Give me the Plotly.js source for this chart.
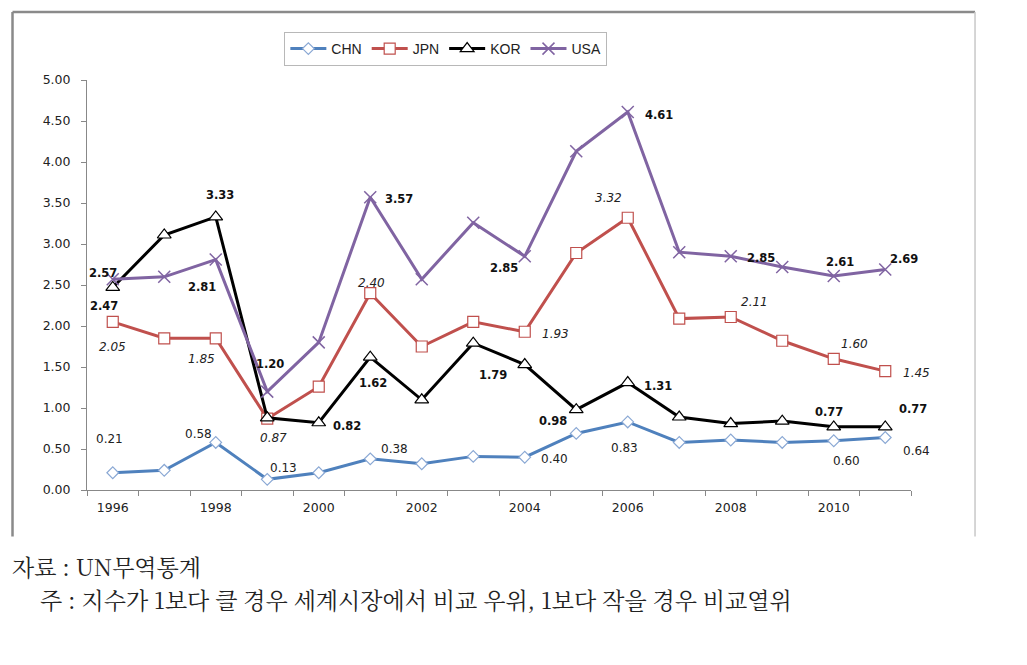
<!DOCTYPE html>
<html>
<head>
<meta charset="utf-8">
<script src="https://cdn.plot.ly/plotly-3.0.1.min.js"></script>
<style>html,body{margin:0;padding:0;background:#fff;}#chart{width:1027px;height:665px;}</style>
</head>
<body>
<div id="chart"></div>
<script>
// ---- data ----
const years = ['1996','1997','1998','1999','2000','2001','2002','2003','2004','2005','2006','2007','2008','2009','2010','2011'];
const yearLabels = ['1996','','1998','','2000','','2002','','2004','','2006','','2008','','2010',''];
const chn = [0.21, 0.24, 0.58, 0.13, 0.21, 0.38, 0.32, 0.41, 0.40, 0.69, 0.83, 0.58, 0.61, 0.58, 0.60, 0.64];
const jpn = [2.05, 1.85, 1.85, 0.87, 1.26, 2.40, 1.75, 2.05, 1.93, 2.89, 3.32, 2.09, 2.11, 1.82, 1.60, 1.45];
const kor = [2.47, 3.11, 3.33, 0.88, 0.82, 1.62, 1.10, 1.79, 1.53, 0.98, 1.31, 0.89, 0.81, 0.84, 0.77, 0.77];
const usa = [2.57, 2.60, 2.81, 1.20, 1.80, 3.57, 2.57, 3.26, 2.85, 4.13, 4.61, 2.90, 2.85, 2.72, 2.61, 2.69];
const seriesNames = ['CHN','JPN','KOR','USA'];
const yTicks = [0,0.5,1,1.5,2,2.5,3,3.5,4,4.5,5];
const sourceText = '자료 : UN무역통계';
const noteText = '주 : 지수가 1보다 클 경우 세계시장에서 비교 우위, 1보다 작을 경우 비교열위';

// ---- styling ----
const seriesData = {CHN: chn, JPN: jpn, KOR: kor, USA: usa};
const styles = {
  CHN: {color:'#4f81bd', sym:'diamond', size:9, mline:'#8aa8d4', mfill:'#ffffff', lw:1.2},
  JPN: {color:'#c0504d', sym:'square', size:11, mline:'#c0504d', mfill:'#ffffff', lw:1.2},
  KOR: {color:'#000000', sym:'triangle-up', size:12, mline:'#000000', mfill:'#ffffff', lw:1.2},
  USA: {color:'#8064a2', sym:'x-thin', size:12, mline:'#8064a2', mfill:'#8064a2', lw:1.5}
};
const labelFont = {
  CHN: {family:'DejaVu Sans', size:12, color:'#222', weight:'normal', style:'normal'},
  JPN: {family:'DejaVu Sans', size:12, color:'#222', weight:'normal', style:'italic'},
  KOR: {family:'DejaVu Sans', size:11.5, color:'#111', weight:'bold', style:'normal'},
  USA: {family:'DejaVu Sans', size:11.5, color:'#111', weight:'bold', style:'normal'}
};
// [series, year index, x shift px, y shift px]
const labelSpots = [
  ['USA',0,-10,6.5],['KOR',0,-9,-19],['JPN',0,0,-25],['CHN',0,-3,34],
  ['KOR',2,4,22],['USA',2,-14,-27],['JPN',2,-14,-21],['CHN',2,-17,8],
  ['USA',3,3,28],['JPN',3,6,-19],['CHN',3,16,11],
  ['KOR',4,28,-3],
  ['KOR',5,3,-25.5],['JPN',5,1,10.5],['USA',5,29,-1.5],['CHN',5,24,10],
  ['KOR',7,20,-31.5],
  ['USA',8,-21,-11.5],['JPN',8,31,-2],['CHN',8,30,-2],
  ['KOR',9,-23,-11],
  ['USA',10,31,-3],['JPN',10,-19,20],['KOR',10,30,-3],['CHN',10,-3,-26.5],
  ['USA',12,30,-1.5],['JPN',12,24,15],
  ['USA',14,6,14],['JPN',14,21,15],['KOR',14,-5,15],['CHN',14,13,-20],
  ['USA',15,19,10.5],['JPN',15,31,-1.5],['KOR',15,28,18],['CHN',15,31,-13]
];

const traces = seriesNames.map(n => ({
  type:'scatter', mode:'lines+markers', name:n, x:years, y:seriesData[n],
  line:{color:styles[n].color, width:3},
  marker:{symbol:styles[n].sym, size:styles[n].size, color:styles[n].mfill,
          line:{color:styles[n].mline, width:styles[n].lw}},
  cliponaxis:false
}));

const annotations = labelSpots.map(([n,i,xs,ys]) => ({
  xref:'x', yref:'y', x:i, y:seriesData[n][i], text:seriesData[n][i].toFixed(2),
  showarrow:false, xshift:xs, yshift:ys, font:labelFont[n]
}));
const capFont = {family:'Noto Serif CJK KR, Noto Sans CJK KR', size:23, color:'#222'};
annotations.push({xref:'paper', yref:'paper', x:-0.0934, y:-0.1864, xanchor:'left', yanchor:'middle',
  text:sourceText, showarrow:false, font:capFont});
annotations.push({xref:'paper', yref:'paper', x:-0.0595, y:-0.2667, xanchor:'left', yanchor:'middle',
  text:noteText, showarrow:false, font:capFont});

const shapes = [
  {type:'line', xref:'paper', yref:'paper', x0:-0.0904, x1:1.0777, y0:1.1657, y1:1.1657, line:{color:'#8a8a8a', width:2.5}},
  {type:'line', xref:'paper', yref:'paper', x0:-0.0904, x1:-0.0904, y0:1.1657, y1:-0.1133, line:{color:'#8a8a8a', width:2.5}},
  {type:'line', xref:'paper', yref:'paper', x0:1.0777, x1:1.0777, y0:1.1657, y1:-0.1133, line:{color:'#c8c8c8', width:1.5}}
];

const layout = {
  width:1027, height:665,
  margin:{l:87, r:116, t:80, b:174.5},
  paper_bgcolor:'#ffffff', plot_bgcolor:'#ffffff',
  showlegend:true,
  legend:{orientation:'h', x:0.4355, y:1.0756, xanchor:'center', yanchor:'middle',
    bordercolor:'#b8b8b8', borderwidth:1, bgcolor:'#ffffff',
    font:{family:'Liberation Sans, Arial', size:14, color:'#222'}, itemwidth:36, tracegroupgap:0},
  xaxis:{type:'category', tickmode:'array', tickvals:years, ticktext:yearLabels,
    tickson:'boundaries', ticks:'outside', ticklen:5, tickcolor:'#888', tickwidth:1,
    showline:true, linecolor:'#888', linewidth:1, showgrid:false, zeroline:false,
    ticklabelstandoff:6,
    tickfont:{family:'DejaVu Sans', size:12.5, color:'#222'}, range:[-0.5,15.5], fixedrange:true},
  yaxis:{range:[0,5], tickmode:'array', tickvals:yTicks, tickformat:'.2f',
    ticks:'outside', ticklen:5, tickcolor:'#888', tickwidth:1,
    showline:true, linecolor:'#888', linewidth:1, showgrid:false, zeroline:false,
    ticklabelstandoff:8,
    tickfont:{family:'DejaVu Sans', size:12.5, color:'#222'}, fixedrange:true},
  annotations:annotations,
  shapes:shapes
};

Plotly.newPlot('chart', traces, layout, {displayModeBar:false, staticPlot:true});
</script>
</body>
</html>
